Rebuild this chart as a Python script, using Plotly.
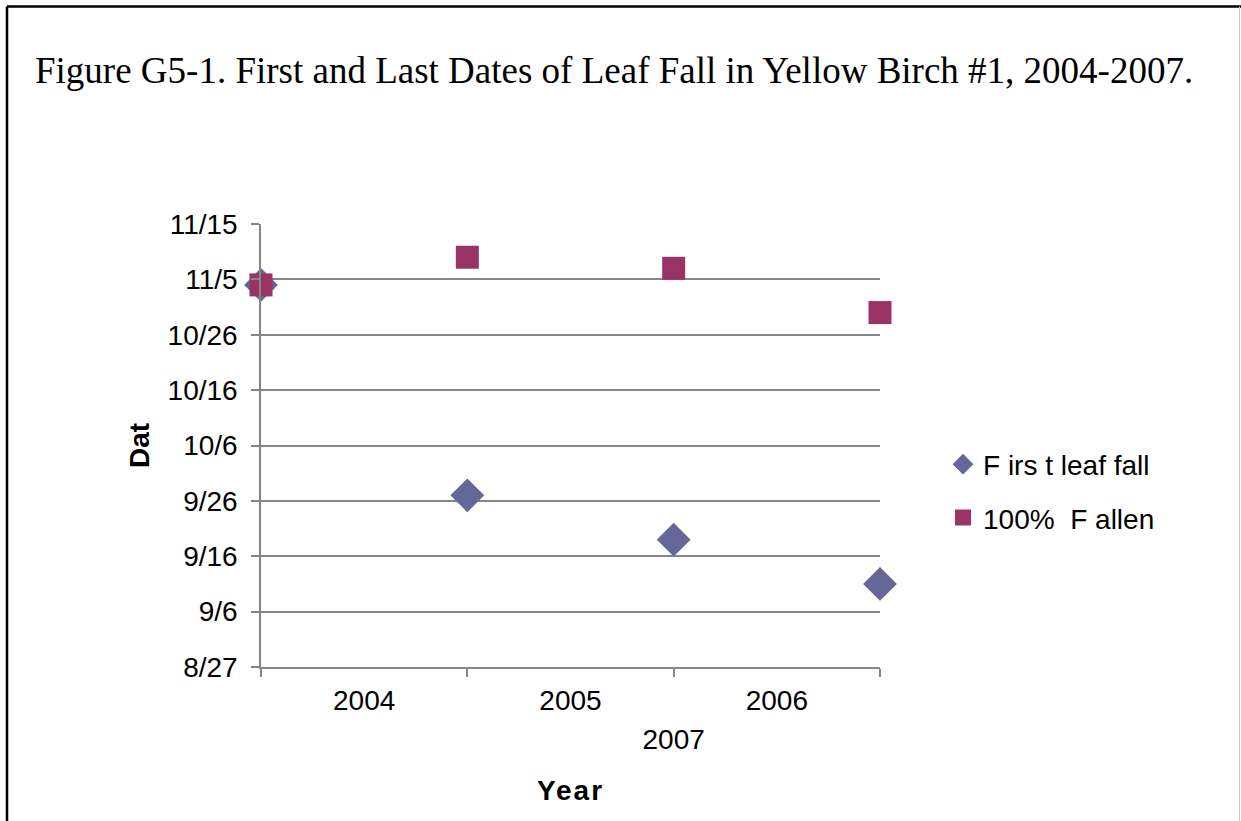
import plotly.graph_objects as go

# ---- data ----
years = ["2004", "2005", "2006", "2007"]
first_leaf_fall = ["2001-11-04", "2001-09-27", "2001-09-19", "2001-09-11"]
fallen_100 = ["2001-11-04", "2001-11-09", "2001-11-07", "2001-10-30"]
series_names = ["F irs t leaf fall", "100%\u00a0\u00a0F allen"]
x_tick_labels = ["2004", "2005", "2006"]
x_tick_label_second_row = ["2007"]

W, H = 1241, 821
L, R, T, B = 261, 880, 224, 667
pw, ph = R - L, B - T

def px_x(x):
    return (x - L) / pw

def px_y(y):
    return (B - y) / ph

xpos = list(range(len(first_leaf_fall)))

fig = go.Figure()
fig.add_trace(go.Scatter(
    x=xpos, y=first_leaf_fall, mode="markers", name=series_names[0],
    legendgroup="a",
    marker=dict(symbol="diamond", size=26, color="#666699"),
    cliponaxis=False,
))
fig.add_trace(go.Scatter(
    x=xpos, y=fallen_100, mode="markers", name=series_names[1],
    legendgroup="b",
    marker=dict(symbol="square", size=23, color="#993366"),
    cliponaxis=False,
))

grid = "#868686"
fig.update_layout(
    width=W, height=H,
    margin=dict(l=L, r=W - R, t=T, b=H - B),
    paper_bgcolor="white", plot_bgcolor="white",
    font=dict(family="Liberation Sans, Arial, sans-serif", size=28, color="black"),
    title=dict(
        text="Figure G5-1. First and Last Dates of Leaf Fall in Yellow Birch #1, 2004-2007.",
        font=dict(family="Liberation Serif, Times New Roman, serif", size=37, color="black"),
        x=35 / W, xref="container", xanchor="left",
        y=1 - 70 / H, yref="container", yanchor="middle",
    ),
    showlegend=True,
    legend=dict(
        x=px_x(943), y=px_y(491), xanchor="left", yanchor="middle",
        font=dict(size=28), tracegroupgap=14, itemwidth=30,
        bgcolor="rgba(0,0,0,0)",
    ),
    xaxis=dict(
        range=[0, len(xpos) - 1], tickvals=xpos, ticktext=[""] * len(xpos),
        ticks="outside", ticklen=8, tickcolor=grid, tickwidth=1.5,
        showline=True, linecolor=grid, linewidth=1.5,
        showgrid=False, zeroline=False, fixedrange=True,
    ),
    xaxis2=dict(
        overlaying="x", side="bottom", range=[0, len(xpos) - 1],
        tickvals=[i + 0.5 for i in range(len(x_tick_labels))], ticktext=x_tick_labels,
        ticks="", showgrid=False, zeroline=False, showline=False,
        tickangle=0, ticklabelstandoff=14, tickfont=dict(size=28),
        title=dict(text='<b><span style="letter-spacing:2px">Year</span></b>',
                   font=dict(size=28), standoff=65),
    ),
    xaxis3=dict(
        overlaying="x", side="bottom", range=[0, len(xpos) - 1],
        tickvals=[2.0], ticktext=x_tick_label_second_row,
        ticks="", showgrid=False, zeroline=False, showline=False,
        tickangle=0, ticklabelstandoff=53, tickfont=dict(size=28),
    ),
    yaxis=dict(
        type="date",
        range=["2001-08-27", "2001-11-15"],
        tick0="2001-08-27", dtick=10 * 86400000, tickformat="%-m/%-d",
        ticks="outside", ticklen=8, tickcolor=grid, tickwidth=1.5,
        showline=True, linecolor=grid, linewidth=1.5,
        showgrid=True, gridcolor=grid, gridwidth=1.5,
        zeroline=False, ticklabelstandoff=8,
        title=dict(text="<b>Dat</b>", font=dict(size=28), standoff=10),
    ),
)

# invisible traces to activate the overlay label axes
fig.add_trace(go.Scatter(x=[0], y=["2001-08-27"], xaxis="x2", mode="markers",
                         marker=dict(opacity=0), showlegend=False, hoverinfo="skip"))
fig.add_trace(go.Scatter(x=[0], y=["2001-08-27"], xaxis="x3", mode="markers",
                         marker=dict(opacity=0), showlegend=False, hoverinfo="skip"))

# frame lines around the figure
fig.add_shape(type="line", xref="paper", yref="paper",
              x0=px_x(7), x1=px_x(1241), y0=px_y(6.5), y1=px_y(6.5),
              line=dict(color="black", width=2.5))
fig.add_shape(type="line", xref="paper", yref="paper",
              x0=px_x(7), x1=px_x(7), y0=px_y(6.5), y1=px_y(830),
              line=dict(color="black", width=2.5))
fig.add_shape(type="line", xref="paper", yref="paper",
              x0=px_x(1239.5), x1=px_x(1239.5), y0=px_y(6.5), y1=px_y(830),
              line=dict(color="#c8c8c8", width=1))

fig.write_html("out.html", config={"displayModeBar": False},
               post_script="document.body.style.margin='0';")
